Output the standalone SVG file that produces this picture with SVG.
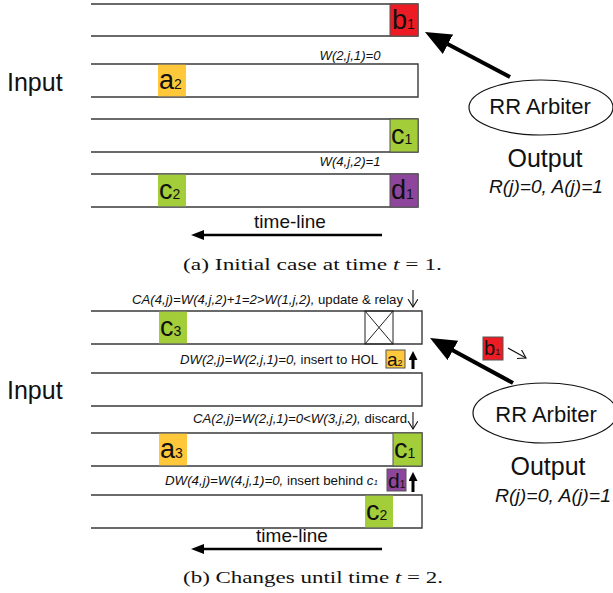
<svg xmlns="http://www.w3.org/2000/svg" width="613" height="593" viewBox="0 0 613 593">
<style>
text{font-family:"Liberation Sans",Arial,sans-serif;fill:#111}
.q{fill:#fff;stroke:#3a3a3a;stroke-width:1.4}
.bx{stroke:#555;stroke-width:1}
.red{fill:#ED1C24}.yel{fill:#FFC83A}.grn{fill:#A3CD39}.pur{fill:#8E469C}
.big{font-size:27px}.sub{font-size:14px}
.f{font-size:13px;font-style:italic}
.n{font-style:normal}
.lab{font-size:25px}
.cap{font-family:"Liberation Serif","Times New Roman",serif;font-size:17px}
.thin{stroke:#111;stroke-width:1.1;fill:none}
.thick{stroke:#000;stroke-width:4;fill:none}
</style>
<defs>
<marker id="bigHead" markerUnits="userSpaceOnUse" markerWidth="28" markerHeight="24" refX="16" refY="11" orient="auto">
<path d="M0,0 L26,11 L0,22 z" fill="#000"/>
</marker>
<marker id="tlHead" markerUnits="userSpaceOnUse" markerWidth="14" markerHeight="10" refX="8" refY="5" orient="auto">
<path d="M0,0 L13,5 L0,10 z" fill="#000"/>
</marker>
<marker id="upHead" markerUnits="userSpaceOnUse" markerWidth="10" markerHeight="10" refX="4" refY="4.5" orient="auto">
<path d="M0,0 L9,4.5 L0,9 z" fill="#000"/>
</marker>
<marker id="openHead" markerUnits="userSpaceOnUse" markerWidth="10" markerHeight="12" refX="8" refY="5" orient="auto">
<path d="M0,0 L8,5 L0,10" fill="none" stroke="#111" stroke-width="1.1"/>
</marker>
</defs>

<!-- Panel (a) -->
<g id="queue-a1">
<path class="q" d="M91,4 H418 V36 H91"/>
<rect class="bx red" x="390" y="4" width="28" height="32"/>
<text x="392" y="29"><tspan class="big">b</tspan><tspan class="sub">1</tspan></text>
</g>
<g id="queue-a2">
<path class="q" d="M91,64 H418 V97 H91"/>
<rect class="yel" x="158" y="64.7" width="28" height="31.6"/>
<text x="159" y="89"><tspan class="big">a</tspan><tspan class="sub">2</tspan></text>
<text class="f" x="350" y="60" text-anchor="middle" textLength="61" lengthAdjust="spacingAndGlyphs">W(2,j,1)=0</text>
</g>
<g id="queue-a3">
<path class="q" d="M91,119 H418 V152 H91"/>
<rect class="bx grn" x="390" y="119" width="28" height="33"/>
<text x="391" y="144"><tspan class="big">c</tspan><tspan class="sub">1</tspan></text>
<text class="f" x="350" y="166" text-anchor="middle" textLength="61" lengthAdjust="spacingAndGlyphs">W(4,j,2)=1</text>
</g>
<g id="queue-a4">
<path class="q" d="M91,174 H418 V207 H91"/>
<rect class="grn" x="158" y="174.7" width="28" height="31.6"/>
<text x="159" y="199"><tspan class="big">c</tspan><tspan class="sub">2</tspan></text>
<rect class="bx pur" x="390" y="174" width="28" height="33"/>
<text x="391" y="199"><tspan class="big">d</tspan><tspan class="sub">1</tspan></text>
</g>
<g id="input-a"><text class="lab" x="7" y="91">Input</text></g>
<g id="arbiter-a">
<ellipse cx="541" cy="107.5" rx="72" ry="27.5" fill="#fff" stroke="#111" stroke-width="1.2"/>
<text x="540" y="114" font-size="22" text-anchor="middle">RR Arbiter</text>
</g>
<g id="output-a">
<text class="lab" x="545" y="167" text-anchor="middle">Output</text>
<text x="546" y="193" font-size="18" font-style="italic" text-anchor="middle" textLength="114" lengthAdjust="spacingAndGlyphs">R(j)=0, A(j)=1</text>
</g>
<g id="timeline-a">
<text x="290" y="228" font-size="19" text-anchor="middle">time-line</text>
</g>
<text class="cap" x="183" y="270" textLength="259" lengthAdjust="spacingAndGlyphs">(a) Initial case at time <tspan font-style="italic">t</tspan> = 1.</text>

<!-- Panel (b) -->
<g id="queue-b1">
<path class="q" d="M91,311 H422 V344 H91"/>
<rect class="grn" x="159" y="311.7" width="28" height="31.6"/>
<text x="160" y="336"><tspan class="big">c</tspan><tspan class="sub">3</tspan></text>
<rect x="365" y="311" width="28" height="33" fill="none" stroke="#222" stroke-width="1"/>
<path d="M365,311 L393,344 M393,311 L365,344" stroke="#222" stroke-width="1"/>
<text class="f" x="132" y="304" textLength="271" lengthAdjust="spacingAndGlyphs">CA(4,j)=W(4,j,2)+1=2&gt;W(1,j,2),<tspan class="n"> update &amp; relay</tspan></text>
</g>
<g id="queue-b2">
<path class="q" d="M91,373 H422 V406 H91"/>
<text class="f" x="180" y="364" textLength="198" lengthAdjust="spacingAndGlyphs">DW(2,j)=W(2,j,1)=0,<tspan class="n"> insert to HOL</tspan></text>
<rect class="bx yel" x="386" y="350" width="19" height="18"/>
<text x="387" y="366"><tspan font-size="19">a</tspan><tspan font-size="9">2</tspan></text>
</g>
<g id="queue-b3">
<path class="q" d="M91,433 H422 V466 H91"/>
<rect class="yel" x="159" y="433.7" width="28" height="31.6"/>
<text x="160" y="458"><tspan class="big">a</tspan><tspan class="sub">3</tspan></text>
<rect class="bx grn" x="393" y="433" width="29" height="33"/>
<text x="394" y="458"><tspan class="big">c</tspan><tspan class="sub">1</tspan></text>
<text class="f" x="193" y="423" textLength="214" lengthAdjust="spacingAndGlyphs">CA(2,j)=W(2,j,1)=0&lt;W(3,j,2),<tspan class="n"> discard</tspan></text>
</g>
<g id="queue-b4">
<path class="q" d="M91,495 H422 V528 H91"/>
<rect class="grn" x="365" y="495.7" width="28" height="31.6"/>
<text x="366" y="520"><tspan class="big">c</tspan><tspan class="sub">2</tspan></text>
<text class="f" x="165" y="485" textLength="213" lengthAdjust="spacingAndGlyphs">DW(4,j)=W(4,j,1)=0,<tspan class="n"> insert behind </tspan>c<tspan font-size="8">1</tspan></text>
<rect class="bx pur" x="387" y="469" width="19" height="22"/>
<text x="388" y="488"><tspan font-size="21">d</tspan><tspan font-size="10">1</tspan></text>
</g>
<g id="input-b"><text class="lab" x="7" y="399">Input</text></g>
<g id="arbiter-b">
<ellipse cx="545" cy="413" rx="72" ry="30" fill="#fff" stroke="#111" stroke-width="1.2"/>
<text x="546" y="422" font-size="22" text-anchor="middle">RR Arbiter</text>
</g>
<g id="b1-out">
<rect class="bx red" x="483" y="337" width="20" height="23"/>
<text x="484" y="355"><tspan font-size="20">b</tspan><tspan font-size="9">1</tspan></text>
</g>
<g id="output-b">
<text class="lab" x="548" y="475" text-anchor="middle">Output</text>
<text x="553" y="502" font-size="18" font-style="italic" text-anchor="middle" textLength="116" lengthAdjust="spacingAndGlyphs">R(j)=0, A(j)=1</text>
</g>
<g id="timeline-b">
<text x="292" y="542" font-size="19" text-anchor="middle">time-line</text>
</g>
<text class="cap" x="183" y="583" textLength="260" lengthAdjust="spacingAndGlyphs">(b) Changes until time <tspan font-style="italic">t</tspan> = 2.</text>

<g id="connectors">
<line class="thick" x1="510" y1="77" x2="433.8" y2="36.7" marker-end="url(#bigHead)"/>
<line class="thick" x1="513" y1="383" x2="438.8" y2="342.8" marker-end="url(#bigHead)"/>
<line x1="382" y1="235" x2="196" y2="235" stroke="#000" stroke-width="2.5" marker-end="url(#tlHead)"/>
<line x1="382" y1="549" x2="196" y2="549" stroke="#000" stroke-width="2.5" marker-end="url(#tlHead)"/>
<line class="thin" x1="413" y1="290" x2="413" y2="307" marker-end="url(#openHead)"/>
<line class="thin" x1="413" y1="412" x2="413" y2="429" marker-end="url(#openHead)"/>
<line x1="413" y1="369" x2="413" y2="356" stroke="#000" stroke-width="3" marker-end="url(#upHead)"/>
<line x1="413" y1="492" x2="413" y2="477" stroke="#000" stroke-width="3" marker-end="url(#upHead)"/>
<line class="thin" x1="508" y1="348" x2="526" y2="358" marker-end="url(#openHead)"/>
</g>
</svg>
